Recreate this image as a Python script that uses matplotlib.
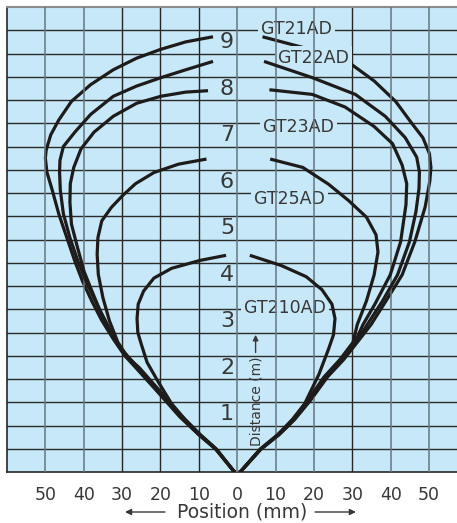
import matplotlib
matplotlib.use('Agg')
import matplotlib.pyplot as plt

# Кривые зон обнаружения (позиция, мм / дистанция, м), от верхнего конца к вершине
gt21_left_x = [-6.3, -13.4, -19.9, -26.2, -32.3, -38.2, -43.2, -46.5, -48.6, -49.8, -50.0, -49.6, -48.2, -46.5,
               -44.4, -42.3, -40.3, -37.8, -35.3, -32.3, -29.3, -26.5, -20.7, -15.0, -10.0, -5.6, -1.2, -0.6]
gt21_left_y = [9.36, 9.25, 9.09, 8.90, 8.65, 8.33, 7.97, 7.57, 7.25, 6.92, 6.75, 6.45, 6.06, 5.55,
               5.04, 4.53, 4.10, 3.66, 3.26, 2.86, 2.50, 2.25, 1.72, 1.19, 0.80, 0.49, 0.05, 0.0]
gt21_right_x = [6.6, 17.6, 29.4, 35.7, 41.3, 45.5, 48.4, 50.1, 50.5, 50.2, 49.0, 46.3, 43.0, 38.8, 34.9,
                31.3, 27.8, 23.5, 19.2, 15.0, 10.9, 6.2, 1.0, 0.6]
gt21_right_y = [9.36, 9.12, 8.79, 8.41, 7.97, 7.50, 7.19, 6.85, 6.55, 6.25, 5.70, 4.95, 4.24, 3.68, 3.17,
                2.79, 2.42, 2.04, 1.55, 1.13, 0.80, 0.49, 0.02, 0.0]

gt22_left_x = [-6.3, -13.4, -19.9, -26.2, -32.3, -38.2, -42.3, -45.3, -46.2, -46.3, -46.1, -45.3, -43.6,
               -41.5, -39.4, -36.9, -34.4, -31.9, -29.0, -26.2, -20.4, -14.8, -9.9, -5.5, -1.2, -0.6]
gt22_left_y = [8.83, 8.65, 8.48, 8.30, 8.08, 7.69, 7.31, 7.00, 6.70, 6.45, 6.06, 5.55, 5.04,
               4.53, 4.10, 3.66, 3.26, 2.86, 2.50, 2.25, 1.72, 1.19, 0.80, 0.49, 0.05, 0.0]
gt22_right_x = [7.0, 19.6, 30.8, 38.6, 43.8, 46.8, 47.5, 47.4, 46.6, 44.9, 41.8, 37.9, 33.9,
                31.0, 27.5, 23.2, 19.0, 14.8, 10.8, 6.1, 1.0, 0.6]
gt22_right_y = [8.83, 8.48, 8.12, 7.65, 7.19, 6.77, 6.45, 6.10, 5.60, 4.95, 4.24, 3.68, 3.17,
                2.79, 2.42, 2.04, 1.55, 1.13, 0.80, 0.49, 0.02, 0.0]

gt23_left_x = [-7.6, -13.4, -19.9, -26.2, -32.3, -37.3, -40.7, -42.6, -43.5, -43.6, -43.2, -41.6, -39.9,
               -37.8, -35.6, -33.2, -30.6, -25.9, -20.2, -14.6, -9.8, -5.5, -1.2, -0.6]
gt23_left_y = [8.20, 8.17, 8.08, 7.93, 7.65, 7.31, 6.95, 6.55, 6.20, 5.80, 5.33, 4.82, 4.31,
               3.88, 3.44, 3.04, 2.68, 2.25, 1.72, 1.19, 0.80, 0.49, 0.05, 0.0]
gt23_right_x = [8.4, 19.6, 28.1, 35.7, 40.5, 43.0, 44.2, 44.0, 42.6, 39.9, 35.9, 32.8,
                30.7, 27.2, 22.9, 18.7, 14.6, 10.7, 6.1, 1.0, 0.6]
gt23_right_y = [8.22, 8.12, 7.85, 7.43, 7.06, 6.60, 6.20, 5.75, 4.95, 4.24, 3.61, 3.17,
                2.79, 2.42, 2.04, 1.55, 1.13, 0.80, 0.49, 0.02, 0.0]

gt25_left_x = [-8.0, -15.3, -21.7, -26.5, -29.8, -32.8, -35.3, -36.3, -36.5, -36.2, -35.0, -33.3, -31.1,
               -28.4, -25.6, -19.9, -14.3, -9.6, -5.4, -1.2, -0.6]
gt25_left_y = [6.73, 6.62, 6.44, 6.20, 5.95, 5.69, 5.40, 5.04, 4.68, 4.25, 3.75, 3.25, 2.79,
               2.45, 2.25, 1.72, 1.19, 0.80, 0.49, 0.05, 0.0]
gt25_right_x = [8.6, 17.1, 23.8, 29.0, 33.7, 36.2, 36.7, 35.7, 33.7, 31.3,
                30.2, 26.8, 22.6, 18.5, 14.4, 10.5, 6.0, 1.0, 0.6]
gt25_right_y = [6.73, 6.55, 6.19, 5.84, 5.48, 5.10, 4.73, 4.24, 3.68, 3.17,
                2.79, 2.42, 2.04, 1.55, 1.13, 0.80, 0.49, 0.02, 0.0]

gt210_left_x = [-2.9, -9.7, -17.1, -21.7, -24.4, -25.8, -26.1, -25.9, -25.0, -23.5, -20.8, -17.1, -13.6,
                -9.6, -5.4, -1.2, -0.6]
gt210_left_y = [4.66, 4.55, 4.38, 4.17, 3.89, 3.61, 3.30, 3.00, 2.75, 2.36, 1.97, 1.47, 1.13,
                0.80, 0.49, 0.05, 0.0]
gt210_right_x = [3.3, 11.5, 18.0, 22.1, 24.7, 25.5, 25.1, 23.8, 21.3, 17.6, 13.2, 10.4, 6.0, 1.0, 0.6]
gt210_right_y = [4.66, 4.44, 4.20, 3.92, 3.61, 3.30, 2.95, 2.64, 2.10, 1.47, 0.99, 0.78, 0.49, 0.02, 0.0]

# Подписи моделей: центр по X, базовая линия по Y
model_names = ['GT21AD', 'GT22AD', 'GT23AD', 'GT25AD', 'GT210AD']
model_x = [15.4, 19.9, 15.9, 13.6, 12.5]
model_y = [9.41, 8.79, 7.31, 5.77, 3.43]

distance_labels = [1, 2, 3, 4, 5, 6, 7, 8, 9]
x_ticks = [-50, -40, -30, -20, -10, 0, 10, 20, 30, 40, 50]

bg = '#c6e8f8'
ink = '#1e1b1b'
txt = '#383838'

fig = plt.figure(figsize=(4.57, 5.23), dpi=100)
ax = fig.add_axes([7 / 457, 51 / 523, 450 / 457, 465 / 523])
ax.set_facecolor(bg)
ax.set_xlim(-60, 57.3)
ax.set_ylim(0, 10)

# Сетка
gray_cols = [-50, -40, 0, 10, 20, 40, 50]
for gx in range(-50, 51, 10):
    if gx in gray_cols:
        ax.axvline(gx, color='#66767f', lw=1.1, zorder=3.5)
    else:
        ax.axvline(gx, color='#262626', lw=1.0, zorder=1)
for k in range(1, 20):
    ax.axhline(k * 0.5, color='#2b2b2b', lw=1.0, zorder=1)

# Кривые
line_kw = dict(color=ink, lw=2.3, solid_capstyle='butt', solid_joinstyle='round')
ax.plot(gt21_left_x, gt21_left_y, zorder=2, **line_kw)
ax.plot(gt21_right_x, gt21_right_y, zorder=2, **line_kw)
curves = [(gt22_left_x, gt22_left_y), (gt22_right_x, gt22_right_y),
          (gt23_left_x, gt23_left_y), (gt23_right_x, gt23_right_y),
          (gt25_left_x, gt25_left_y), (gt25_right_x, gt25_right_y),
          (gt210_left_x, gt210_left_y), (gt210_right_x, gt210_right_y)]
for cx, cy in curves:
    ax.plot(cx, cy, zorder=4, **line_kw)

# Подписи моделей
for i, name in enumerate(model_names):
    z = 1.5 if i == 0 else 3
    ax.text(model_x[i], model_y[i], name, ha='center', va='baseline', fontsize=12.5, color=txt,
            zorder=z, bbox=dict(boxstyle='square,pad=0.18', fc=bg, ec='none'))

# Значения дистанции
for d in distance_labels:
    ax.text(-0.8, d + 0.24, str(d), ha='right', va='center', fontsize=16, color=txt, zorder=3)

ax.text(5.0, 0.56, 'Distance (m)', rotation=90, ha='center', va='bottom', fontsize=10, color=txt, zorder=3)
ax.annotate('', xy=(4.8, 2.95), xytext=(4.8, 2.57),
            arrowprops=dict(arrowstyle='-|>', color=txt, lw=1.0, mutation_scale=8, shrinkA=0, shrinkB=0))

ax.set_xticks(x_ticks)
ax.set_xticklabels([str(abs(t)) for t in x_ticks], fontsize=12.5, color=txt)
ax.set_yticks([])
ax.tick_params(axis='x', length=0, pad=10)
ax.spines['right'].set_visible(False)
ax.spines['top'].set_color('#8c8c8c')
ax.spines['top'].set_linewidth(1.5)
ax.spines['left'].set_color('#262626')
ax.spines['bottom'].set_color('#262626')
ax.spines['left'].set_linewidth(1.2)
ax.spines['bottom'].set_linewidth(1.2)

fig.text(242 / 457, 5.5 / 523, 'Position (mm)', ha='center', va='baseline', fontsize=13.5, color=txt)
arrow = dict(arrowstyle='-|>', color=txt, lw=1.0, mutation_scale=9, shrinkA=0, shrinkB=0)
fig.add_artist(matplotlib.patches.FancyArrowPatch((165 / 457, 11 / 523), (125 / 457, 11 / 523),
                                                  transform=fig.transFigure, **arrow))
fig.add_artist(matplotlib.patches.FancyArrowPatch((315 / 457, 11 / 523), (356 / 457, 11 / 523),
                                                  transform=fig.transFigure, **arrow))

fig.savefig('out.png', dpi=100, facecolor='white')
